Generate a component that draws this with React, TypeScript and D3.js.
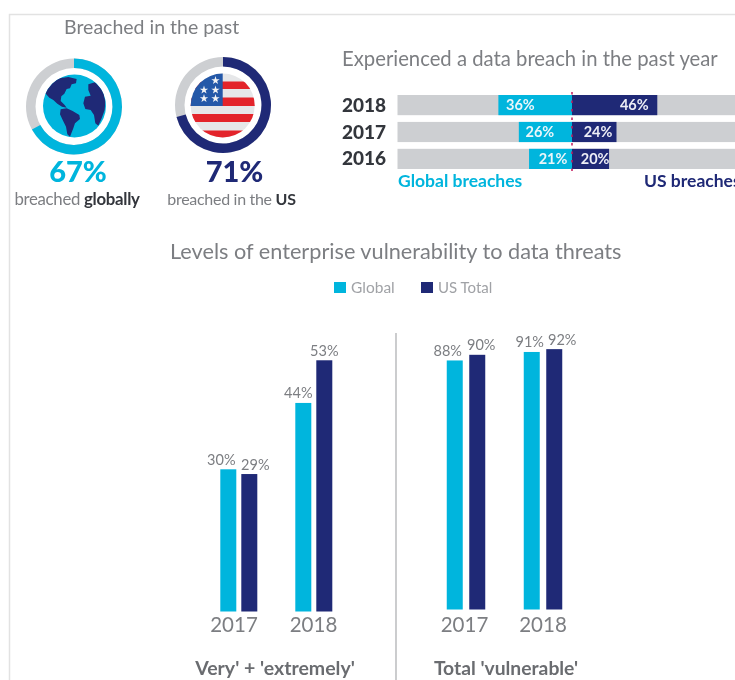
import React from "react";
import * as d3 from "d3";

const CYAN = "#00B5DD";
const NAVY = "#1F2976";
const GREY = "#CDCFD2";
const TEXT = "#7C7E82";
const DARK = "#33363C";
const FONT = "Lato, 'Open Sans', sans-serif";

// Donuts
const globalBreached = 67;
const usBreached = 71;

// Diverging bars
const breachYears = ["2018", "2017", "2016"];
const breachGlobal = [36, 26, 21];
const breachUS = [46, 24, 20];

// Grouped columns
const colYears = ["2017", "2018"];
const severeGlobal = [30, 44];
const severeUS = [29, 53];
const totalGlobal = [88, 91];
const totalUS = [90, 92];

const continents = [
  "M76,115 L84,95 L100,80 L118,70 L145,66 L170,72 L168,85 L155,88 L150,100 L140,102 L133,116 L124,124 L122,138 L134,150 L140,158 L126,155 L112,146 L100,135 L88,128 Z",
  "M122,163 L140,160 L158,168 L178,180 L180,192 L165,205 L160,220 L150,245 L142,238 L138,215 L128,195 L120,178 Z",
  "M205,88 L225,82 L238,95 L250,110 L256,140 L254,165 L245,190 L235,212 L226,205 L222,180 L212,165 L196,162 L190,145 L195,125 L212,122 L205,105 Z",
];

function Donut({ cx, cy, value, color }: { cx: number; cy: number; value: number; color: string }) {
  const arc = d3.arc().innerRadius(38.5).outerRadius(48);
  const angle = d3.scaleLinear().domain([0, 100]).range([0, 2 * Math.PI]);
  return (
    <g transform={`translate(${cx},${cy})`}>
      <path d={arc({ startAngle: 0, endAngle: 2 * Math.PI } as any)!} fill={GREY} />
      <path d={arc({ startAngle: 0, endAngle: angle(value) } as any)!} fill={color} />
    </g>
  );
}

function Columns({
  centers, baseY, pxPerPct, globalVals, usVals, gap, gOff, uOff, yrOff,
}: {
  centers: [number, number]; baseY: number; pxPerPct: number; globalVals: number[]; usVals: number[]; gap: number;
  gOff: number[]; uOff: number[]; yrOff: number[];
}) {
  const x = d3.scalePoint<string>().domain(colYears).range(centers);
  const y = d3.scaleLinear().domain([0, 100]).range([baseY, baseY - 100 * pxPerPct]);
  const w = 16;
  return (
    <g>
      {colYears.map((yr, i) => {
        const c = x(yr)!;
        const gx = c - gap / 2 - w;
        const ux = c + gap / 2;
        return (
          <g key={yr}>
            <rect x={gx} y={y(globalVals[i])} width={w} height={baseY - y(globalVals[i])} fill={CYAN} />
            <rect x={ux} y={y(usVals[i])} width={w} height={baseY - y(usVals[i])} fill={NAVY} />
            <text x={gx + w / 2 + gOff[i]} y={y(globalVals[i]) - 4.5} textAnchor="middle" fontSize={14.5} fill={TEXT}>{globalVals[i]}%</text>
            <text x={ux + w / 2 + uOff[i]} y={y(usVals[i]) - 4.5} textAnchor="middle" fontSize={14.5} fill={TEXT}>{usVals[i]}%</text>
            <text x={c + yrOff[i]} y={632} textAnchor="middle" fontSize={20.5} fill={TEXT}>{yr}</text>
          </g>
        );
      })}
    </g>
  );
}

export default function App() {
  const zero = 572;
  const xG = d3.scaleLinear().domain([0, 100]).range([zero, zero - 204.5]);
  const xU = d3.scaleLinear().domain([0, 100]).range([zero, zero + 185.4]);
  const yB = d3.scaleBand().domain(breachYears).range([95, 169]).paddingInner(0.25).paddingOuter(0);
  const gLabelOff = [22, 21, 24];
  const uLabelOff = [23, 18.5, 14];

  const stripes = [[81.5, 7.5], [97.5, 8.5], [114, 8], [130.5, 8]];
  const starPath = d3.symbol(d3.symbolStar, 22)()!;
  const stars = [[204, 90], [215.5, 90], [204, 98.5], [215.5, 98.5], [215.5, 80.5]];

  return (
    <svg
      width={735}
      height={680}
      viewBox="0 0 735 680"
      style={{ position: "absolute", left: 0, top: 0, display: "block", fontFamily: FONT, filter: "blur(0.45px)" }}
    >
      <rect width={735} height={680} fill="#fff" />
      <path d="M9.5,680 V14.5 H735" fill="none" stroke="#E2E2E2" strokeWidth={1.5} />

      {/* Headline left */}
      <text x={64} y={34} fontSize={19.5} fill={TEXT}>Breached in the past</text>

      {/* Globe */}
      <Donut cx={74} cy={106.5} value={globalBreached} color={CYAN} />
      <clipPath id="globeClip"><circle cx={74.5} cy={106} r={31.5} /></clipPath>
      <circle cx={74.5} cy={106} r={31.5} fill={CYAN} />
      <g clipPath="url(#globeClip)">
        <g transform="translate(20,55) scale(0.3333)">
          {continents.map((d, i) => <path key={i} d={d} fill={NAVY} />)}
        </g>
      </g>
      <text x={78} y={182} textAnchor="middle" fontSize={29} fontWeight={900} fill={CYAN}>{globalBreached}%</text>
      <text x={77} y={205} textAnchor="middle" fontSize={16.8} fill={TEXT} letterSpacing={-0.3}>
        breached <tspan fontWeight={700} fill={DARK}>globally</tspan>
      </text>

      {/* Flag */}
      <Donut cx={223} cy={105} value={usBreached} color={NAVY} />
      <clipPath id="flagClip"><circle cx={222.7} cy={105.5} r={32} /></clipPath>
      <g clipPath="url(#flagClip)">
        <rect x={190} y={73} width={66} height={66} fill="#E6E7E9" />
        {stripes.map(([y, h], i) => <rect key={i} x={190} y={y} width={66} height={h} fill="#E3242B" />)}
        <rect x={190} y={73} width={32.7} height={33} fill="#2458A8" />
        {stars.map(([x, y], i) => <path key={i} d={starPath} transform={`translate(${x},${y})`} fill="#F2F3F5" />)}
      </g>
      <text x={234.5} y={182} textAnchor="middle" fontSize={29} fontWeight={900} fill={NAVY}>{usBreached}%</text>
      <text x={231.5} y={205} textAnchor="middle" fontSize={16} fill={TEXT} letterSpacing={-0.3}>
        breached in the <tspan fontWeight={700} fill={DARK}>US</tspan>
      </text>

      {/* Diverging bars */}
      <text x={342} y={66} fontSize={20.3} fill={TEXT}>Experienced a data breach in the past year</text>
      {breachYears.map((yr, i) => {
        const y = yB(yr)!;
        const h = yB.bandwidth();
        const g = breachGlobal[i];
        const u = breachUS[i];
        const mid = y + h / 2 + 5;
        return (
          <g key={yr}>
            <text x={342} y={mid + 1.5} fontSize={19} fontWeight={900} fill={DARK}>{yr}</text>
            <rect x={397.5} y={y} width={338} height={h} fill={GREY} />
            <rect x={xG(g)} y={y} width={zero - xG(g)} height={h} fill={CYAN} />
            <rect x={zero} y={y} width={xU(u) - zero} height={h} fill={NAVY} />
            <text x={xG(g) + gLabelOff[i]} y={mid} textAnchor="middle" fontSize={14.5} fontWeight={700} fill="#EAF6FA">{g}%</text>
            <text x={xU(u) - uLabelOff[i]} y={mid} textAnchor="middle" fontSize={14.5} fontWeight={700} fill="#EDEEF6">{u}%</text>
          </g>
        );
      })}
      <line x1={zero} x2={zero} y1={92} y2={177} stroke="#C2185B" strokeWidth={1.5} strokeDasharray="2.5 6" />
      <text x={398} y={187} fontSize={17.5} fontWeight={700} fill={CYAN}>Global breaches</text>
      <text x={644} y={187} fontSize={17.5} fontWeight={700} fill={NAVY}>US breaches</text>

      {/* Lower headline & legend */}
      <text x={170} y={259} fontSize={21.7} fill={TEXT}>Levels of enterprise vulnerability to data threats</text>
      <rect x={334} y={282} width={12} height={11} fill={CYAN} />
      <text x={351} y={293} fontSize={15.5} fill="#A0A2A6">Global</text>
      <rect x={421} y={282} width={12} height={11} fill={NAVY} />
      <text x={438} y={293} fontSize={15} fill="#A0A2A6">US Total</text>

      {/* Columns */}
      <Columns centers={[238.8, 313.8]} baseY={611.5} pxPerPct={4.74} globalVals={severeGlobal} usVals={severeUS} gap={5}
        gOff={[-7, -5]} uOff={[6, 0]} yrOff={[-4.8, -0.3]} />
      <Columns centers={[466, 543]} baseY={609.5} pxPerPct={2.83} globalVals={totalGlobal} usVals={totalUS} gap={6.5}
        gOff={[-7, -2]} uOff={[4, 8]} yrOff={[-1.5, 0]} />
      <line x1={396} x2={396} y1={333} y2={680} stroke="#A9ABAE" strokeWidth={1.2} />
      <text x={275} y={675} textAnchor="middle" fontSize={19.5} fontWeight={700} fill="#6A6C70">Very' + 'extremely'</text>
      <text x={506} y={675} textAnchor="middle" fontSize={19.3} fontWeight={700} fill="#6A6C70">Total 'vulnerable'</text>
    </svg>
  );
}
